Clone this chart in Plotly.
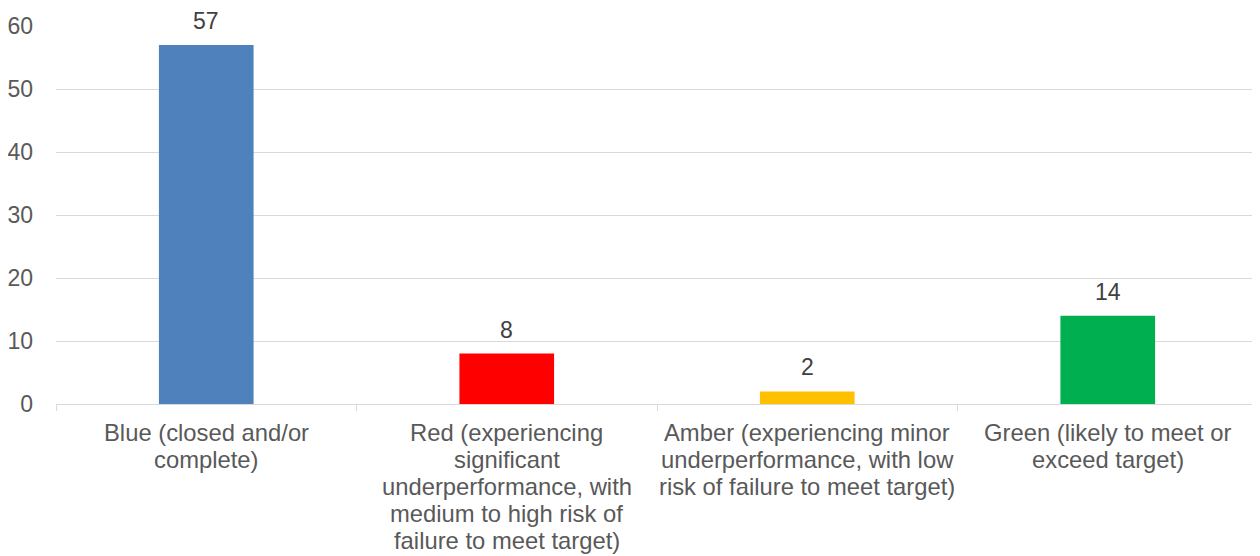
import plotly.graph_objects as go

categories = [
    "Blue (closed and/or complete)",
    "Red (experiencing significant underperformance, with medium to high risk of failure to meet target)",
    "Amber (experiencing minor underperformance, with low risk of failure to meet target)",
    "Green (likely to meet or exceed target)",
]
category_lines = [
    ["Blue (closed and/or", "complete)"],
    ["Red (experiencing", "significant", "underperformance, with", "medium to high risk of", "failure to meet target)"],
    ["Amber (experiencing minor", "underperformance, with low", "risk of failure to meet target)"],
    ["Green (likely to meet or", "exceed target)"],
]
values = [57, 8, 2, 14]
bar_colors = ["#4F81BD", "#FF0000", "#FFC000", "#00B050"]
y_ticks = [0, 10, 20, 30, 40, 50, 60]

FONT = "Liberation Sans, Arial, sans-serif"

fig = go.Figure()
fig.add_trace(go.Bar(
    x=categories,
    y=values,
    marker=dict(color=bar_colors, line=dict(width=0)),
    width=0.315,
    hoverinfo="x+y",
))

annotations = []
for cat, val in zip(categories, values):
    annotations.append(dict(
        x=cat, y=val, xref="x", yref="y", text=str(val), showarrow=False,
        yanchor="bottom", xanchor="center", yshift=10, borderpad=0,
        font=dict(family=FONT, size=23, color="#404040"),
    ))
for cat, lines in zip(categories, category_lines):
    for i, line in enumerate(lines):
        annotations.append(dict(
            x=cat, y=0, xref="x", yref="y", text=line, showarrow=False,
            yanchor="top", xanchor="center", yshift=-13 - 27.0 * i,
            font=dict(family=FONT, size=23.8, color="#595959"),
        ))

fig.update_layout(
    width=1252, height=548,
    margin=dict(l=48, r=2, t=18, b=152, pad=0, autoexpand=False),
    plot_bgcolor="white", paper_bgcolor="white",
    showlegend=False,
    bargap=0.685,
    annotations=annotations,
    xaxis=dict(
        type="category",
        automargin=False,
        showticklabels=False,
        showgrid=False,
        showline=True, linecolor="#d9d9d9", linewidth=1,
        ticks="outside", tickson="boundaries", ticklen=6, tickcolor="#d9d9d9", tickwidth=1,
    ),
    yaxis=dict(
        automargin=False,
        range=[0, 60],
        tickvals=y_ticks,
        showgrid=True, gridcolor="#d9d9d9", gridwidth=1,
        zeroline=False, showline=False,
        ticks="", ticklabelstandoff=22,
        tickfont=dict(family=FONT, size=23, color="#595959"),
    ),
)

fig.write_html("out.html")
